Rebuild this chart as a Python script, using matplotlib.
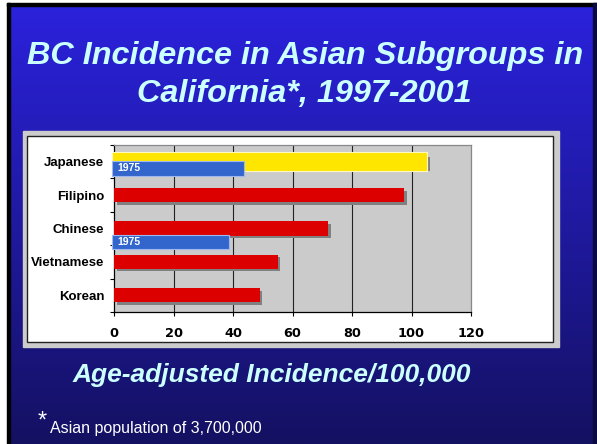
import numpy as np
import matplotlib
matplotlib.use('Agg')
import matplotlib.pyplot as plt
from matplotlib.patches import Rectangle

# Data
groups = ['Korean', 'Vietnamese', 'Chinese', 'Filipino', 'Japanese']
incidence = [49, 55, 72, 97.5, 105.5]
# 1975 comparison bars (Japanese, Chinese) and the yellow highlight on Japanese
old_groups = ['Japanese', 'Chinese']
old_values = [43.7, 38.7]
highlight_value = 105.2
xticks = [0, 20, 40, 60, 80, 100, 120]

W, H = 597, 444
fig = plt.figure(figsize=(W / 100, H / 100), dpi=100)

def fx(x):
    return x / W

def fy(y):
    return 1 - y / H

# Slide background: vertical blue gradient
bg = fig.add_axes([0, 0, 1, 1])
grad = np.linspace(0, 1, 256).reshape(-1, 1)
top = np.array([43, 34, 222]) / 255
bot = np.array([20, 17, 98]) / 255
img = top + (bot - top) * grad[:, :, None]
bg.imshow(img, aspect='auto', extent=[0, W, H, 0])
bg.set_xlim(0, W)
bg.set_ylim(H, 0)
bg.axis('off')
# frame lines
bg.add_patch(Rectangle((0, 0), 7, H, color='white'))
bg.add_patch(Rectangle((0, 0), W, 3, color='white'))
bg.add_patch(Rectangle((7, 3), 3, H, color='black'))
bg.add_patch(Rectangle((7, 3), W, 3, color='black'))
bg.add_patch(Rectangle((593, 3), 4, H, color='#0a0a40'))

# Chart panel
bg.add_patch(Rectangle((23, 131), 536, 216, color='#cccccc'))
bg.add_patch(Rectangle((27, 136), 526, 206, facecolor='white',
                       edgecolor='#222222', lw=1))

# Titles
title_col = '#ccffff'
fig.text(fx(305), fy(64), 'BC Incidence in Asian Subgroups in', ha='center', va='baseline',
         fontsize=23.3, fontweight='bold', fontstyle='italic', color=title_col,
         family='Liberation Sans')
fig.text(fx(304), fy(102), 'California*, 1997-2001', ha='center', va='baseline',
         fontsize=23.3, fontweight='bold', fontstyle='italic', color=title_col,
         family='Liberation Sans')
fig.text(fx(272), fy(382), 'Age-adjusted Incidence/100,000', ha='center', va='baseline',
         fontsize=19, fontweight='bold', fontstyle='italic', color=title_col,
         family='Liberation Sans')
fig.text(fx(38), fy(428), '*', ha='left', va='baseline', fontsize=17,
         color='white', family='Liberation Sans')
fig.text(fx(50), fy(433), 'Asian population of 3,700,000', ha='left', va='baseline',
         fontsize=11.5, color='white', family='Liberation Sans')

# Bar chart
ax = fig.add_axes([fx(114), fy(312), (471 - 114) / W, (312 - 145) / H])
ax.set_facecolor('#cbcbcb')
ypos = np.arange(len(groups))
bh = 0.42

# shadows then bars
ax.barh(ypos - 0.075, incidence, left=0.85, height=bh, color='#808080', zorder=2)
ax.barh(ypos, incidence, height=bh, color='#dd0000', zorder=3)

# yellow highlight on Japanese
jy = groups.index('Japanese')
ax.barh(jy, highlight_value + 0.7, left=-0.7, height=0.57, color='#ffe600',
        edgecolor='#fff8c0', lw=0.8, zorder=4, clip_on=False)

# 1975 bars
old_offsets = [-0.2, -0.4]
old_heights = [0.45, 0.42]
for g, v, off, hh in zip(old_groups, old_values, old_offsets, old_heights):
    yy = groups.index(g) + off
    ax.barh(yy, v + 0.7, left=-0.7, height=hh, color='#3366cc',
            edgecolor='#9fb8f0', lw=0.8, zorder=5, clip_on=False)
    ax.text(1.0, yy, '1975', ha='left', va='center', fontsize=7.5,
            fontweight='bold', color='white', zorder=6, family='Liberation Sans')

ax.set_xlim(0, 120)
ax.set_ylim(-0.5, 4.5)
for xv in xticks[1:-1]:
    ax.axvline(xv, color='#222222', lw=0.8, zorder=1)

ax.set_yticks(ypos)
ax.set_yticklabels(groups, fontsize=9.5, fontweight='bold', family='Liberation Sans')
ax.set_yticks(np.arange(-0.5, 5, 1), minor=True)
ax.tick_params(axis='y', which='major', length=0, pad=7)
ax.tick_params(axis='y', which='minor', length=3, width=0.8, direction='out')

ax.set_xticks(xticks)
ax.set_xticklabels([str(t) for t in xticks], fontsize=9.3, fontweight='bold',
                   family='DejaVu Sans')
ax.tick_params(axis='x', length=3, width=0.8, direction='out', pad=8)

ax.spines['left'].set_color('black')
ax.spines['bottom'].set_color('black')
ax.spines['top'].set_color('#888888')
ax.spines['right'].set_color('#888888')
for s in ax.spines.values():
    s.set_linewidth(0.9)

fig.savefig('out.png', dpi=100)
